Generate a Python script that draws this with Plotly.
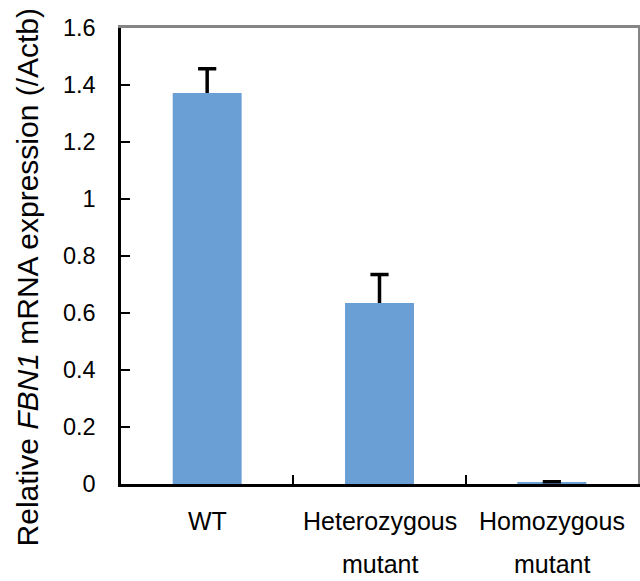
import plotly.graph_objects as go

categories = ["WT", "Heterozygous<br>mutant", "Homozygous<br>mutant"]
values = [1.372, 0.635, 0.004]
errors_plus = [0.085, 0.100, 0.004]
y_ticks = [0, 0.2, 0.4, 0.6, 0.8, 1.0, 1.2, 1.4, 1.6]

FONT = "Liberation Sans, Arial, sans-serif"
BAR_COLOR = "#6A9FD5"

xs = list(range(len(categories)))
tops = [v + e for v, e in zip(values, errors_plus)]

fig = go.Figure()
fig.add_trace(go.Bar(
    x=xs, y=values, width=0.4,
    marker=dict(color=BAR_COLOR, line=dict(width=0)),
))

# error bar stems (upper only) and caps
stem_x, stem_y = [], []
for x, v, t in zip(xs, values, tops):
    stem_x += [x, x, None]
    stem_y += [v, t, None]
fig.add_trace(go.Scatter(x=stem_x, y=stem_y, mode="lines",
                         line=dict(color="black", width=3.5),
                         hoverinfo="skip"))
fig.add_trace(go.Scatter(x=xs, y=tops, mode="markers",
                         marker=dict(symbol="line-ew", size=13,
                                     line=dict(color="black", width=3.5)),
                         hoverinfo="skip"))

# invisible trace on the top/right axes (gray frame)
fig.add_trace(go.Scatter(x=xs, y=values, mode="markers", xaxis="x2", yaxis="y2",
                         marker=dict(opacity=0), hoverinfo="skip"))

# category labels as annotations (line spacing wider than plotly's default)
for i, lab in enumerate(categories):
    for j, line in enumerate(lab.split("<br>")):
        fig.add_annotation(x=i, xref="x", y=0, yref="paper",
                           text=line, showarrow=False,
                           xanchor="center", yanchor="middle",
                           yshift=-37 - 43 * j,
                           font=dict(family=FONT, size=25, color="black"))

# y-axis title
fig.add_annotation(x=-0.18, xref="paper", y=0.455, yref="paper",
                   text="Relative <i>FBN1</i> mRNA expression (/Actb)",
                   textangle=-90, showarrow=False,
                   xanchor="center", yanchor="middle",
                   font=dict(family=FONT, size=30, color="black"))

fig.update_layout(
    width=640, height=581,
    margin=dict(l=121, r=2, t=28, b=97),
    paper_bgcolor="white", plot_bgcolor="white",
    showlegend=False,
    font=dict(family=FONT, color="black"),
    xaxis=dict(range=[-0.5, 2.5], tickmode="array",
               tickvals=[-0.5, 0.5, 1.5, 2.5], ticktext=["", "", "", ""],
               ticks="inside", ticklen=9, tickwidth=2, tickcolor="black",
               showline=True, linecolor="black", linewidth=2.5,
               showgrid=False, zeroline=False),
    yaxis=dict(range=[0, 1.6], tickmode="array", tickvals=y_ticks,
               ticktext=[f"{v:g}" for v in y_ticks],
               ticks="inside", ticklen=9, tickwidth=2, tickcolor="black",
               showline=True, linecolor="black", linewidth=2.5,
               showgrid=False, zeroline=False,
               tickfont=dict(family=FONT, size=23.5, color="black"),
               ticklabelstandoff=18),
    xaxis2=dict(range=[-0.5, 2.5], overlaying="x", side="top", anchor="y2",
                showline=True, linecolor="#858585", linewidth=3,
                showticklabels=False, ticks="", showgrid=False, zeroline=False),
    yaxis2=dict(range=[0, 1.6], overlaying="y", side="right", anchor="x2",
                showline=True, linecolor="#858585", linewidth=2,
                showticklabels=False, ticks="", showgrid=False, zeroline=False),
)

fig.write_html("out.html", config={"displayModeBar": False},
               post_script="document.body.style.margin='0';"
                           "document.body.style.overflow='hidden';")
